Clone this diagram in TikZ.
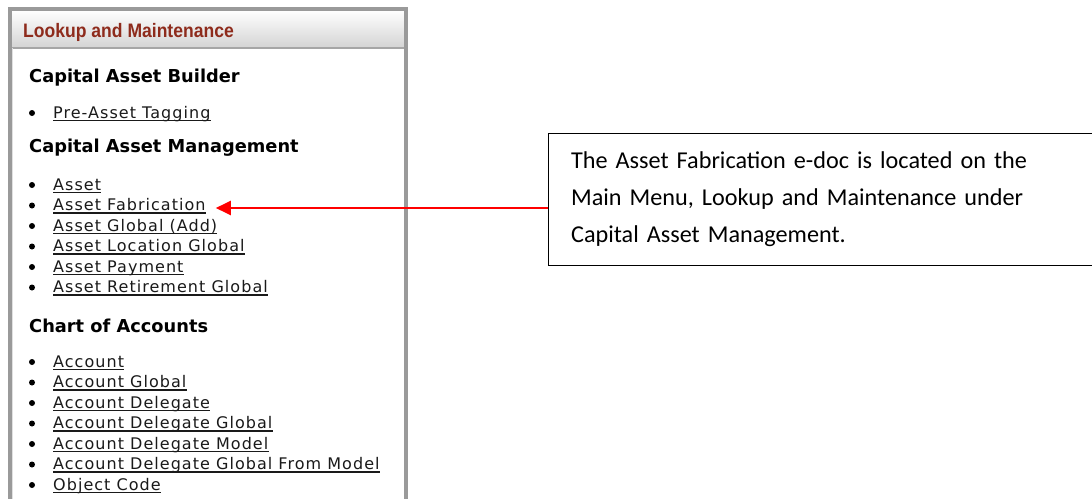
\documentclass[tikz,border=0pt]{standalone}
\usepackage{fontspec}
\setmainfont{DejaVu Sans}
\newfontfamily\linkfont[LetterSpace=6.5]{DejaVu Sans}
\newfontfamily\calfont{Carlito}
\newfontfamily\titlefont[FakeStretch=0.90]{Liberation Sans}
\usetikzlibrary{arrows.meta}
\definecolor{titlered}{HTML}{8E2B1C}
\definecolor{framegray}{HTML}{9A9A9A}
\definecolor{linkgray}{HTML}{1A1A1A}
\begin{document}
\begin{tikzpicture}[x=1pt,y=-1pt,
  heading/.style={anchor=base west,inner sep=0,font=\bfseries\fontsize{17.8}{20}\selectfont},
  linktext/.style={anchor=base west,inner sep=0,font=\linkfont\fontsize{16}{18}\selectfont,text=linkgray},
  bul/.style={fill=black,circle,inner sep=0,minimum size=6pt},
  ul/.style={draw=linkgray,line width=1.3pt},
  note/.style={draw=black,line width=1.2pt,anchor=north west,inner xsep=20pt,inner ysep=10pt,
    minimum width=560pt,minimum height=132pt,align=left,text width=515pt,
    font=\calfont\fontsize{24.2}{37}\selectfont},
  redarrow/.style={draw=red,line width=2pt,-{Triangle[length=15pt,width=14pt]}}]
\useasboundingbox (0,0) rectangle (1092,498);
\fill[white] (0,0) rectangle (1092,498);
% panel
\shade[top color=white,bottom color=black!17] (12,10) rectangle (404,48);
\draw[black!35,line width=1.2pt] (12,48) -- (404,48);
\draw[framegray,line width=4pt] (10,510) -- (10,8.5) -- (405.5,8.5) -- (405.5,510);
\draw[black!12,line width=1pt] (12.5,48) -- (12.5,510);
\node[anchor=base west,inner sep=0,text=titlered,font=\titlefont\bfseries\fontsize{19.5}{21}\selectfont] (title) at (23,37) {Lookup and Maintenance};
% headings
\node[heading] (h1) at (29,82) {Capital Asset Builder};
\node[heading] (h2) at (29,152) {Capital Asset Management};
\node[heading] (h3) at (29,332) {Chart of Accounts};
% links
\foreach \n/\y/\t in {
  l0/118/Pre-Asset Tagging,
  l1/190/Asset,
  l2/210.5/Asset Fabrication,
  l3/231/Asset Global (Add),
  l4/251.5/Asset Location Global,
  l5/272/Asset Payment,
  l6/292.5/Asset Retirement Global,
  l7/367/Account,
  l8/387.5/Account Global,
  l9/408/Account Delegate,
  l10/428.5/Account Delegate Global,
  l11/449/Account Delegate Model,
  l12/469.5/Account Delegate Global From Model,
  l13/490/Object Code}{
  \node[linktext] (\n) at (53,\y) {\t};
  \draw[ul] ([yshift=-2.5pt]\n.base west) -- ([yshift=-2.5pt]\n.base east);
  \node[bul] (b\n) at (32,\y-5) {};
}
% note
\node[note] (note) at (548,133) {The Asset Fabrication e-doc is located on the\\Main Menu, Lookup and Maintenance under\\Capital Asset Management.};
\coordinate (tip) at ([xshift=10pt]l2.east |- 0,208);
\draw[redarrow] (note.west |- 0,208) -- (tip);
\end{tikzpicture}
\end{document}
